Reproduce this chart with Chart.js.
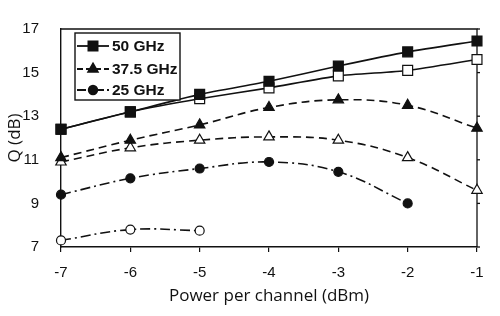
<!DOCTYPE html>
<html>
<head>
<meta charset="utf-8">
<script src="https://cdn.jsdelivr.net/npm/chart.js@4/dist/chart.umd.min.js"></script>
<style>
  html, body { margin: 0; padding: 0; background: #fff; overflow: hidden; }
  canvas { display: block; }
</style>
</head>
<body>
<canvas id="c" width="500" height="316"></canvas>
<script>
// power per channel (dBm)
const power = [-7, -6, -5, -4, -3, -2, -1];
const xTicks = [-7, -6, -5, -4, -3, -2, -1];
const yTicks = [7, 9, 11, 13, 15, 17];

// Q (dB), filled markers and open markers for each channel spacing
const q50Filled = [12.4, 13.2, 14.0, 14.6, 15.3, 15.95, 16.45];
const q50Open = [12.4, 13.2, 13.8, 14.3, 14.85, 15.1, 15.6];
const q375Filled = [11.1, 11.9, 12.6, 13.4, 13.75, 13.5, 12.45];
const q375Open = [10.9, 11.55, 11.9, 12.05, 11.9, 11.1, 9.6];
const q25Filled = [9.4, 10.15, 10.6, 10.9, 10.45, 9.0];
const q25Open = [7.3, 7.8, 7.75];

const legendNames = ['50 GHz', '37.5 GHz', '25 GHz'];

function pts(vals) {
  return vals.map((v, i) => ({x: power[i], y: v}));
}

const DASH = [8, 5];
const DASHDOT = [10, 4, 2, 4];

function series(vals, style, dash, filled, radius, tension) {
  return {
    data: pts(vals),
    borderColor: '#111',
    borderWidth: 1.6,
    borderDash: dash,
    pointStyle: style,
    pointRadius: radius,
    pointBackgroundColor: filled ? '#111' : '#fff',
    pointBorderColor: '#111',
    pointBorderWidth: 1.2,
    tension: tension,
    clip: false,
    fill: false
  };
}

const frame = {
  id: 'frame',
  beforeDatasetsDraw(chart) {
    const {ctx, chartArea: a, scales} = chart;
    ctx.save();
    ctx.strokeStyle = '#111';
    ctx.lineWidth = 1.3;
    ctx.beginPath();
    ctx.moveTo(a.left, a.top);
    ctx.lineTo(a.right, a.top);
    ctx.lineTo(a.right, a.bottom);
    ctx.stroke();
    // small ticks on the right side
    yTicks.forEach(t => {
      const y = scales.y.getPixelForValue(t);
      ctx.beginPath();
      ctx.moveTo(a.right, y);
      ctx.lineTo(a.right + 3, y);
      ctx.stroke();
    });
    ctx.restore();
  },
  afterDraw(chart) {
    const ctx = chart.ctx;
    ctx.save();
    ctx.strokeStyle = '#111';
    // legend box
    const bx = 75, by = 33, bw = 105, bh = 67;
    ctx.fillStyle = '#fff';
    ctx.fillRect(bx, by, bw, bh);
    ctx.lineWidth = 1.4;
    ctx.strokeRect(bx, by, bw, bh);
    const rows = [46, 69, 90];
    const styles = [['rect', [], 6.5], ['triangle', [6, 3], 5.5], ['circle', [9, 3, 3, 3], 4.3]];
    ctx.font = 'bold 15.5px "Liberation Sans", Arial, sans-serif';
    ctx.textBaseline = 'middle';
    rows.forEach((y, i) => {
      ctx.setLineDash(styles[i][1]);
      ctx.lineWidth = 1.8;
      ctx.beginPath();
      ctx.moveTo(77, y);
      ctx.lineTo(109, y);
      ctx.stroke();
      ctx.setLineDash([]);
      ctx.fillStyle = '#111';
      Chart.helpers.drawPoint(ctx, {pointStyle: styles[i][0], radius: styles[i][2], borderWidth: 1}, 93, y);
      ctx.fill();
      ctx.fillText(legendNames[i], 112, y + 1);
    });
    ctx.restore();
  }
};

new Chart(document.getElementById('c'), {
  type: 'line',
  data: {
    datasets: [
      series(q50Filled, 'rect', [], true, 7, 0.2),
      series(q50Open, 'rect', [], false, 7, 0.2),
      series(q375Filled, 'triangle', DASH, true, 6, 0.4),
      series(q375Open, 'triangle', DASH, false, 6, 0.4),
      series(q25Filled, 'circle', DASHDOT, true, 4.5, 0.4),
      series(q25Open, 'circle', DASHDOT, false, 4.5, 0.4)
    ]
  },
  options: {
    responsive: false,
    animation: false,
    layout: {padding: {left: 0, top: 29, right: 23, bottom: 0}},
    plugins: {legend: {display: false}, tooltip: {enabled: false}},
    scales: {
      x: {
        type: 'linear',
        min: -7,
        max: -1,
        afterFit(s) { s.height = 69; },
        afterBuildTicks(s) { s.ticks = xTicks.map(v => ({value: v})); },
        grid: {display: true, drawOnChartArea: false, drawTicks: true, tickLength: 5, color: '#111', lineWidth: 1.2},
        border: {display: true, color: '#111', width: 1.4},
        ticks: {
          padding: 12,
          color: '#111',
          font: {family: '"Liberation Sans", Arial, sans-serif', size: 15},
          callback: v => String(v)
        },
        title: {
          display: true,
          text: 'Power per channel (dBm)',
          color: '#111',
          font: {family: '"Open Sans", sans-serif', size: 17},
          padding: {top: 0, bottom: 10}
        }
      },
      y: {
        type: 'linear',
        min: 7,
        max: 17,
        afterFit(s) { s.width = 61; },
        afterBuildTicks(s) { s.ticks = yTicks.map(v => ({value: v})); },
        grid: {display: false},
        border: {display: true, color: '#111', width: 1.4},
        ticks: {
          padding: 14,
          color: '#111',
          font: {family: '"Liberation Sans", Arial, sans-serif', size: 15}
        },
        title: {
          display: true,
          text: 'Q (dB)',
          color: '#111',
          font: {family: '"Open Sans", sans-serif', size: 17},
          padding: {top: 5, bottom: 0}
        }
      }
    }
  },
  plugins: [frame]
});
</script>
</body>
</html>
